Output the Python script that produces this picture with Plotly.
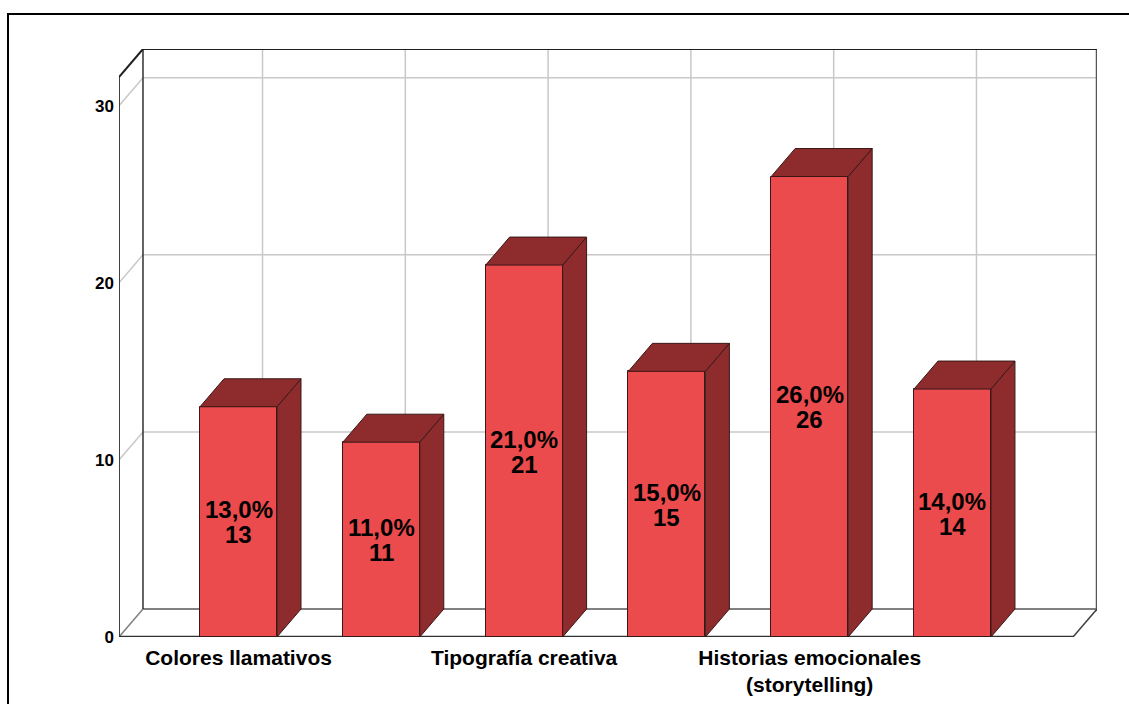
import plotly.graph_objects as go

# ---- data ----
categories = ["Colores llamativos", "", "Tipografía creativa", "", "Historias emocionales<br>(storytelling)", ""]
counts = [13, 11, 21, 15, 26, 14]
y_ticks = [0, 10, 20, 30]
label_positions = [0, 2, 4]

total = sum(counts)
percents = [c / total * 100 for c in counts]

# ---- 3D look parameters (in data units) ----
X0, X1 = -0.837, 6.012      # x-axis range
YTOP = 33.2                 # y-axis range top (back wall)
DX, DY = 0.168, 1.58        # depth offset
BW = 0.539                  # bar width
XFR = X1 - DX               # front right of floor
YTF = YTOP - DY             # front top of side wall

FRONT = "#EB4B4D"
DARK = "#8E2B2D"
EDGE = "#3A1818"
GRID = "#C8C8C8"
FONT = "Liberation Sans, Arial, sans-serif"

fig = go.Figure()


def line(xa, xb, ya, yb, color, width):
    fig.add_shape(type="line", xref="x", yref="y", x0=xa, x1=xb, y0=ya, y1=yb,
                  line=dict(color=color, width=width), layer="below")


def poly(xs, ys, fill, edge):
    fig.add_trace(go.Scatter(x=xs + [xs[0]], y=ys + [ys[0]], mode="lines", fill="toself",
                             fillcolor=fill, line=dict(color=edge, width=1),
                             hoverinfo="skip", showlegend=False))


# gridlines: back wall horizontals, side-wall diagonals, back wall verticals
for v in y_ticks[1:]:
    line(X0 + DX, X1, v + DY, v + DY, GRID, 1.5)
    line(X0, X0 + DX, v, v + DY, GRID, 1.5)
for i in range(len(counts)):
    line(i + DX, i + DX, DY, YTOP, GRID, 1.5)

# floor
line(X0, X0 + DX, 0, DY, "#808080", 1.5)
line(X0 + DX, X1, DY, DY, "#808080", 2)
line(XFR, X1, 0, DY, "#404040", 1.5)
# back wall frame
line(X0 + DX, X0 + DX, DY, YTOP, "#303030", 1.5)
line(X1, X1, DY, YTOP, "#555555", 2.5)
line(X0 + DX, X1, YTOP, YTOP, "#202020", 2)
# side wall
line(X0, X0, 0, YTF, "#404040", 2)
line(X0, X0 + DX, YTF, YTOP, "#202020", 2)
# front floor edge
line(X0, XFR, 0, 0, "#303030", 2.5)

# bar front faces
fig.add_trace(go.Bar(x=list(range(len(counts))), y=counts, width=BW,
                     marker=dict(color=FRONT, line=dict(color=EDGE, width=1)),
                     hoverinfo="skip", showlegend=False))

# bar side and top faces
for i, v in enumerate(counts):
    r = i + BW / 2
    l = i - BW / 2
    poly([r, r + DX, r + DX, r], [0, DY, v + DY, v], DARK, EDGE)
    poly([l, r, r + DX, l + DX], [v, v, v + DY, v + DY], DARK, EDGE)

# data labels (two lines, tight spacing)
for i, (v, p) in enumerate(zip(counts, percents)):
    pct = f"{p:.1f}".replace(".", ",") + "%"
    fig.add_annotation(x=i, y=v / 2, text=pct, showarrow=False, yshift=12,
                       font=dict(family=FONT, size=24, color="black", weight="bold"))
    fig.add_annotation(x=i, y=v / 2, text=str(v), showarrow=False, yshift=-13,
                       font=dict(family=FONT, size=24, color="black", weight="bold"))

# outer frame
fig.add_shape(type="rect", xref="paper", yref="paper", x0=-0.1135, x1=1.2, y0=-0.3, y1=1.0595,
              line=dict(color="black", width=2), fillcolor="rgba(0,0,0,0)", layer="above")

fig.update_layout(
    width=1129, height=704,
    margin=dict(l=119, r=32, t=49, b=67, autoexpand=False),
    plot_bgcolor="white", paper_bgcolor="white",
    bargap=0,
    xaxis=dict(range=[X0, X1], showgrid=False, zeroline=False, showline=False, ticks="",
               automargin=False,
               tickvals=label_positions, ticktext=[categories[k] for k in label_positions],
               ticklabelstandoff=6,
               tickfont=dict(family=FONT, size=21, color="black", weight="bold")),
    yaxis=dict(range=[0, YTOP], showgrid=False, zeroline=False, showline=False, ticks="",
               automargin=False,
               tickvals=y_ticks, ticklabelstandoff=4,
               tickfont=dict(family=FONT, size=17, color="black", weight="bold")),
)

fig.write_html("out.html")
